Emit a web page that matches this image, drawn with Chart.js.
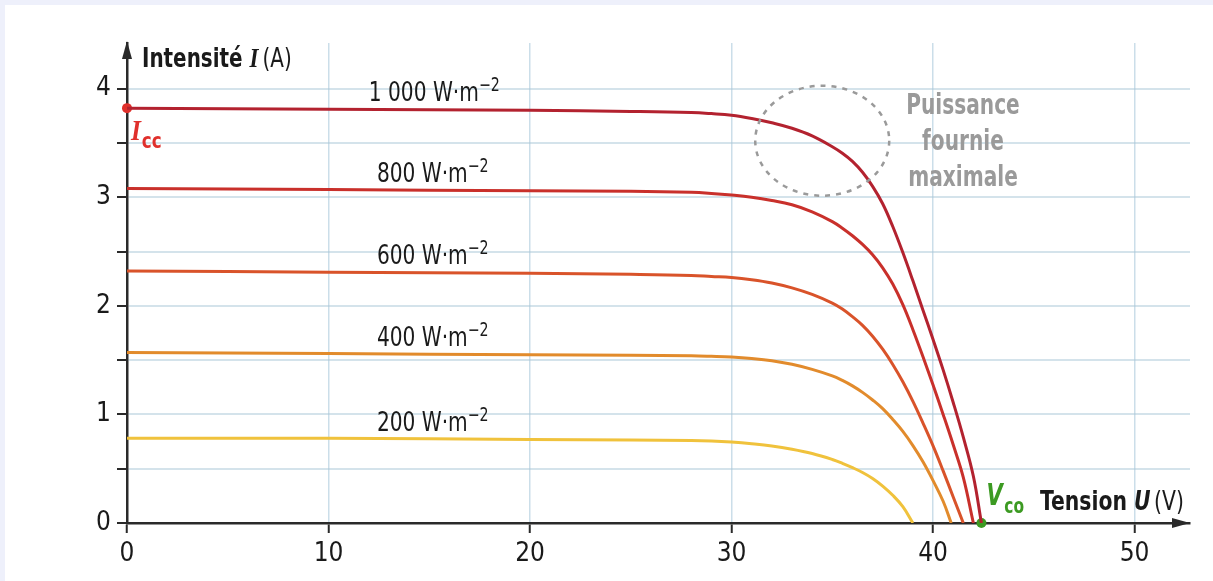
<!DOCTYPE html>
<html>
<head>
<meta charset="utf-8">
<script src="https://cdn.jsdelivr.net/npm/chart.js@4"></script>
<style>
  body { margin: 0; background: #eef0fb; }
  #panel { position: absolute; left: 5px; top: 5px; right: 0; bottom: 0; background: #fff; }
  #chart { position: absolute; left: 0; top: 0; }
</style>
</head>
<body>
<div id="panel"></div>
<canvas id="chart" width="1213" height="581"></canvas>
<script>
// U (V) / I (A), one pair of arrays per irradiance
const u1000 = [0, 10, 20, 25, 28, 29, 30, 31, 32, 33, 34, 35, 35.5, 36, 36.5, 37, 37.5, 38, 38.5, 39, 39.5, 40, 40.5, 41, 41.5, 42, 42.4];
const i1000 = [3.82, 3.81, 3.8, 3.79, 3.78, 3.77, 3.755, 3.725, 3.685, 3.635, 3.565, 3.465, 3.405, 3.33, 3.23, 3.1, 2.94, 2.73, 2.49, 2.23, 1.96, 1.69, 1.41, 1.11, 0.79, 0.43, 0];

const u800 = [0, 10, 20, 25, 28, 29, 30, 31, 32, 33, 34, 35, 35.5, 36, 36.5, 37, 37.5, 38, 38.5, 39, 39.5, 40, 40.5, 41, 41.5, 42];
const i800 = [3.08, 3.07, 3.06, 3.055, 3.045, 3.035, 3.02, 3.0, 2.97, 2.93, 2.865, 2.775, 2.715, 2.645, 2.565, 2.47, 2.35, 2.2, 2.01, 1.78, 1.53, 1.27, 1.0, 0.72, 0.42, 0];

const u600 = [0, 10, 20, 25, 28, 29, 30, 31, 32, 33, 34, 35, 35.5, 36, 36.5, 37, 37.5, 38, 38.5, 39, 39.5, 40, 40.5, 41, 41.5];
const i600 = [2.32, 2.31, 2.3, 2.29, 2.28, 2.27, 2.26, 2.24, 2.21, 2.165, 2.105, 2.025, 1.97, 1.9, 1.82, 1.72, 1.6, 1.46, 1.3, 1.12, 0.92, 0.71, 0.48, 0.24, 0];

const u400 = [0, 10, 20, 25, 28, 29, 30, 31, 32, 33, 34, 35, 35.5, 36, 36.5, 37, 37.5, 38, 38.5, 39, 39.5, 40, 40.5, 40.9];
const i400 = [1.57, 1.56, 1.55, 1.545, 1.54, 1.535, 1.528, 1.515, 1.495, 1.462, 1.415, 1.355, 1.313, 1.263, 1.203, 1.133, 1.053, 0.953, 0.843, 0.713, 0.563, 0.39, 0.2, 0];

const u200 = [0, 10, 20, 25, 28, 29, 30, 31, 32, 33, 34, 35, 35.5, 36, 36.5, 37, 37.5, 38, 38.5, 39];
const i200 = [0.78, 0.78, 0.77, 0.765, 0.76, 0.755, 0.745, 0.73, 0.71, 0.68, 0.64, 0.585, 0.55, 0.51, 0.465, 0.41, 0.34, 0.255, 0.15, 0];

const irradiances = ["1 000", "800", "600", "400", "200"];
const curveColors = ["#b3222f", "#c9302b", "#d9532a", "#e28b2c", "#f0c23c"];

const iccPoint = [{ x: 0, y: 3.82 }];
const vcoPoint = [{ x: 42.4, y: 0 }];

const xTicks = [0, 10, 20, 30, 40, 50];
const yTicks = [0, 1, 2, 3, 4];

const NARROW = '"Liberation Sans Narrow", "DejaVu Sans Condensed", "DejaVu Sans", sans-serif';
const SERIF = '"Liberation Serif", serif';

function toPoints(u, i) {
  return u.map((v, k) => ({ x: v, y: i[k] }));
}

const curves = [
  toPoints(u1000, i1000),
  toPoints(u800, i800),
  toPoints(u600, i600),
  toPoints(u400, i400),
  toPoints(u200, i200)
];

// draws a run of [text, font, color, dy, extraGap] pieces, squeezed by sx
function drawRun(ctx, x, y, sx, parts) {
  ctx.save();
  ctx.translate(x, y);
  ctx.scale(sx, 1);
  ctx.textBaseline = "alphabetic";
  ctx.textAlign = "left";
  let cx = 0;
  parts.forEach(p => {
    ctx.font = p[1];
    ctx.fillStyle = p[2];
    ctx.fillText(p[0], cx, p[3] || 0);
    cx += ctx.measureText(p[0]).width + (p[4] || 0);
  });
  ctx.restore();
}

const decorations = {
  id: "decorations",
  afterDatasetsDraw(chart) {
    const ctx = chart.ctx;
    const xs = chart.scales.x, ys = chart.scales.y;
    const area = chart.chartArea;
    ctx.save();

    // arrows on both axes
    ctx.fillStyle = "#2a2a2a";
    ctx.beginPath();
    ctx.moveTo(area.left, area.top - 2);
    ctx.lineTo(area.left - 5, area.top + 16);
    ctx.lineTo(area.left + 5, area.top + 16);
    ctx.closePath();
    ctx.fill();
    ctx.beginPath();
    ctx.moveTo(area.right, area.bottom);
    ctx.lineTo(area.right - 18, area.bottom - 5);
    ctx.lineTo(area.right - 18, area.bottom + 5);
    ctx.closePath();
    ctx.fill();

    // axis titles
    drawRun(ctx, area.left + 15, area.top + 24, 0.82, [
      ["Intensité ", "bold 27px " + NARROW, "#1a1a1a"],
      ["I", "bold italic 28px " + SERIF, "#1a1a1a", 0, 5],
      ["(A)", "27px " + NARROW, "#1a1a1a"]
    ]);
    drawRun(ctx, 1040, 510, 0.84, [
      ["Tension ", "bold 27px " + NARROW, "#1a1a1a"],
      ["U", "bold italic 27px " + NARROW, "#1a1a1a", 0, 4],
      ["(V)", "27px " + NARROW, "#1a1a1a"]
    ]);

    // irradiance labels above each curve
    irradiances.forEach((txt, k) => {
      const y0 = ys.getPixelForValue(curves[k][0].y) - 7;
      const x0 = k === 0 ? xs.getPixelForValue(12) : xs.getPixelForValue(12.4);
      drawRun(ctx, x0, y0, 0.83, [
        [txt + " W·m", "27px " + NARROW, "#1a1a1a"],
        ["−2", "19px " + NARROW, "#1a1a1a", -10]
      ]);
    });

    // Icc and Vco
    const ix = xs.getPixelForValue(iccPoint[0].x), iy = ys.getPixelForValue(iccPoint[0].y);
    drawRun(ctx, ix + 4, iy + 32, 0.85, [
      ["I", "bold italic 30px " + SERIF, "#e0302c", 0, 1],
      ["cc", "bold 22px " + NARROW, "#e0302c", 8]
    ]);
    const vx = xs.getPixelForValue(vcoPoint[0].x), vy = ys.getPixelForValue(vcoPoint[0].y);
    drawRun(ctx, vx + 5, vy - 18, 0.78, [
      ["V", "bold italic 30px " + NARROW, "#3c9a22", 0, 2],
      ["co", "bold 22px " + NARROW, "#3c9a22", 8]
    ]);

    // dashed circle around the maximum power zone
    ctx.strokeStyle = "#9a9a9a";
    ctx.lineWidth = 2.5;
    ctx.setLineDash([5, 6]);
    ctx.beginPath();
    ctx.ellipse(xs.getPixelForValue(34.5), ys.getPixelForValue(3.52), 67, 55, 0, 0, Math.PI * 2);
    ctx.stroke();
    ctx.setLineDash([]);
    ctx.restore();

    ["Puissance", "fournie", "maximale"].forEach((line, k) => {
      ctx.save();
      ctx.translate(963, 114 + k * 36);
      ctx.scale(0.8, 1);
      ctx.font = "bold 28px " + NARROW;
      ctx.fillStyle = "#9a9a9a";
      ctx.textAlign = "center";
      ctx.textBaseline = "alphabetic";
      ctx.fillText(line, 0, 0);
      ctx.restore();
    });
  }
};

const datasets = curves.map((pts, k) => ({
  label: irradiances[k] + " W·m-2",
  data: pts,
  borderColor: curveColors[k],
  borderWidth: 3,
  pointRadius: 0,
  tension: 0.4,
  fill: false
}));
datasets.push({
  label: "Icc", data: iccPoint, showLine: false, clip: false,
  pointRadius: 5, pointBackgroundColor: "#e0302c", pointBorderWidth: 0
});
datasets.push({
  label: "Vco", data: vcoPoint, showLine: false, clip: false,
  pointRadius: 5, pointBackgroundColor: "#3c9a22", pointBorderWidth: 0
});

new Chart(document.getElementById("chart"), {
  type: "line",
  data: { datasets: datasets },
  options: {
    responsive: false,
    animation: false,
    layout: { padding: { top: 43, right: 23, left: 0, bottom: 0 } },
    plugins: { legend: { display: false }, tooltip: { enabled: false } },
    scales: {
      x: {
        type: "linear",
        min: 0,
        max: 52.75,
        afterFit: s => { s.height = 58; },
        afterBuildTicks: s => { s.ticks = xTicks.map(v => ({ value: v })); },
        ticks: {
          includeBounds: false,
          color: "#1a1a1a",
          padding: 6,
          maxRotation: 0,
          font: { family: NARROW, size: 26 }
        },
        grid: {
          color: "rgba(160,195,215,0.55)",
          lineWidth: 1.5,
          tickColor: "#2a2a2a",
          tickWidth: 2,
          tickLength: 10
        },
        border: { color: "#2a2a2a", width: 2.5 }
      },
      y: {
        type: "linear",
        min: 0,
        max: 4.42,
        afterFit: s => { s.width = 127; },
        ticks: {
          includeBounds: false,
          stepSize: 0.5,
          color: "#1a1a1a",
          padding: 6,
          font: { family: NARROW, size: 26 },
          callback: v => yTicks.includes(v) ? String(v) : ""
        },
        grid: {
          color: "rgba(170,200,215,0.5)",
          lineWidth: 2,
          tickColor: "#2a2a2a",
          tickWidth: 2,
          tickLength: 10
        },
        border: { color: "#2a2a2a", width: 2.5 }
      }
    }
  },
  plugins: [decorations]
});
</script>
</body>
</html>
